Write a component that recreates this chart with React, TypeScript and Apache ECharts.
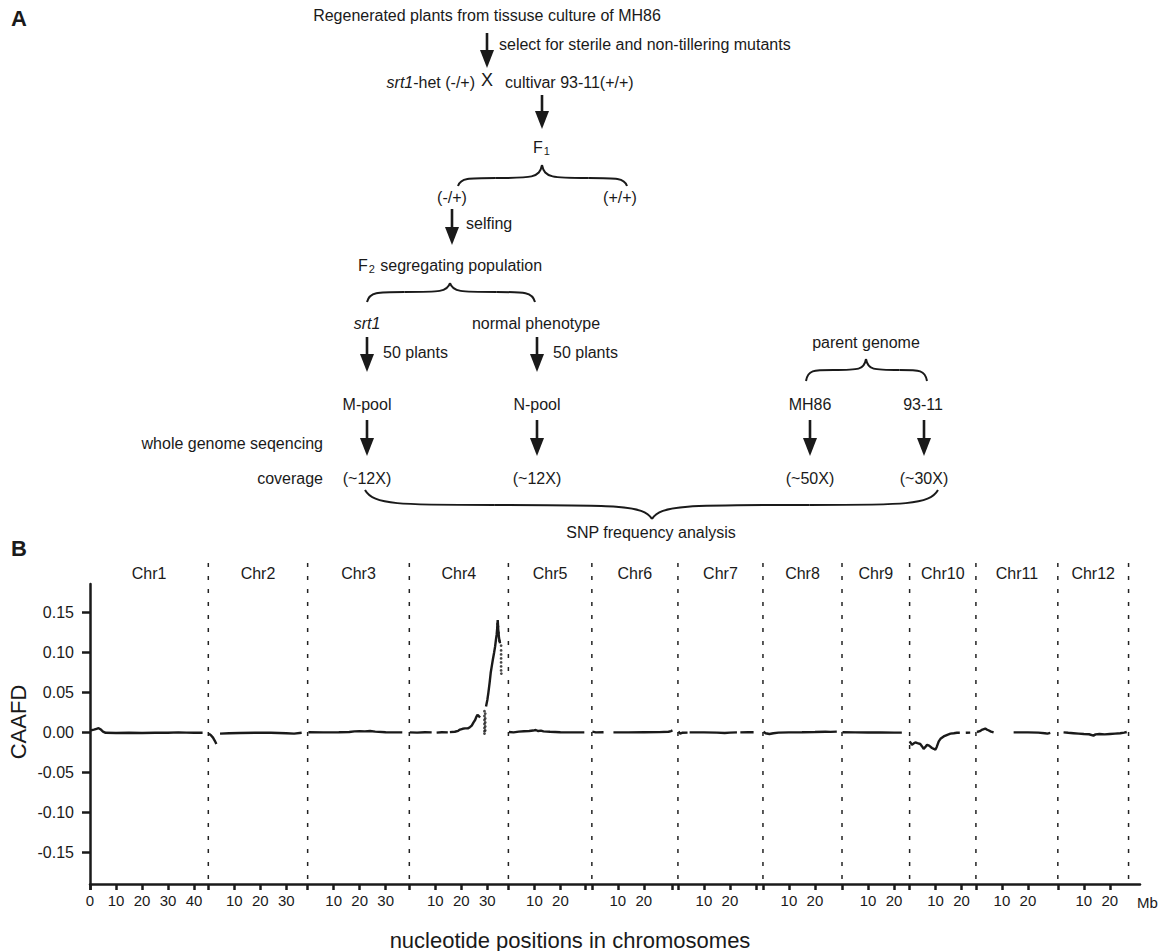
import React, { useEffect, useRef } from "react";
import * as echarts from "echarts";

// ---------------- data ----------------
const chrNames = ["Chr1", "Chr2", "Chr3", "Chr4", "Chr5", "Chr6", "Chr7", "Chr8", "Chr9", "Chr10", "Chr11", "Chr12"];
// width (Mb) of each chromosome's slot along the axis
const chrSlot = [45.5, 38.2, 39.1, 38.1, 32.1, 33.1, 32.7, 30.4, 26.0, 25.5, 31.5, 27.2];
// length (Mb) of each chromosome's own axis segment
const chrAxisLen = [45.5, 38.2, 39.1, 38.1, 29.5, 31.0, 30.1, 30.4, 26.0, 25.5, 31.5, 27.2];
const axisTail = 4.4;
const chrTickLabels = [
  [0, 10, 20, 30, 40], [10, 20, 30], [10, 20, 30], [10, 20, 30], [10, 20], [10, 20],
  [10, 20], [10, 20], [10, 20], [10, 20], [10, 20], [10, 20],
];
const yTicks = [-0.15, -0.1, -0.05, 0, 0.05, 0.1, 0.15];
const yMin = -0.19;
const yMax = 0.185;

type Pt = [number, number] | null;
// CAAFD per chromosome: [position in Mb, value]; null = gap
const chr1Data: Pt[] = [[0.3, 0.002], [1.5, 0.003], [2.5, 0.004], [3.3, 0.0048], [4.2, 0.003], [5, 0.0005], [6, -0.001], [10, -0.0012], [15, -0.001], [20, -0.0012], [25, -0.001], [30, -0.001], [34, -0.0005], [37, -0.0008], [40, -0.001], [43.3, -0.001]];
const chr2Data: Pt[] = [[0.2, -0.002], [1, -0.004], [1.8, -0.007], [2.5, -0.011], [3.1, -0.015], null, [4.5, -0.002], [8, -0.0015], [12, -0.0012], [18, -0.001], [24, -0.001], [30, -0.0015], [33, -0.002], [35.9, -0.001]];
const chr3Data: Pt[] = [[0.3, -0.0003], [6, -0.0005], [12, -0.0003], [16, 0], [18, 0.0008], [20, 0.001], [22, 0.0008], [24, 0.0012], [26, 0.0005], [30, -0.0003], [36.4, -0.0005]];
const chr4Data: Pt[] = [[0.2, -0.0005], [3, -0.0008], [6, -0.0003], [8.6, -0.0005], null, [10.5, -0.0008], [12.5, -0.0003], [14.8, -0.0005], null,
  [15.6, -0.0002], [17.5, 0.0003], [18.8, 0.0015], [19.5, 0.003], [20.5, 0.004], [21.4, 0.0045], [22.5, 0.0045], [23.3, 0.006], [24.0, 0.008], [24.7, 0.012], [25.3, 0.015], [25.8, 0.019], [26.2, 0.0215], [26.7, 0.02], [27.2, 0.018], null,
  [29.5, 0.032], [30.0, 0.04], [30.4, 0.049], [30.9, 0.062], [31.3, 0.074], [31.7, 0.082], [32.1, 0.09], [32.6, 0.099], [33.0, 0.107], [33.3, 0.115], [33.6, 0.122], [33.8, 0.13], [34.0, 0.14], [34.2, 0.128], [34.5, 0.1175], [34.9, 0.111]];
const chr4Scatter: [number, number][] = [[28.9, 0.026], [28.9, 0.02], [28.9, 0.015], [28.9, 0.01], [28.9, 0.005], [28.9, 0.001], [28.9, -0.002], [29.2, 0.023], [29.2, 0.017], [29.2, 0.012], [29.2, 0.007], [29.2, 0.002],
  [33.9, 0.135], [34.1, 0.132], [34.3, 0.124], [34.6, 0.114],
  [35.3, 0.108], [35.3, 0.102], [35.3, 0.097], [35.3, 0.092], [35.3, 0.087], [35.3, 0.082], [35.3, 0.077], [35.4, 0.073]];
const chr5Data: Pt[] = [[0.2, 0], [2, -0.0005], [4, 0.0005], [6, 0.001], [8, 0.0012], [9.5, 0.0018], [10.5, 0.0025], [11.5, 0.0012], [12.5, 0.0018], [13.5, 0.0008], [16, 0.0003], [20, -0.0003], [24, -0.0005], [29.2, -0.0005]];
const chr6Data: Pt[] = [[0.2, 0.0005], [1.5, -0.0005], [4.5, -0.0003], null, [8.3, -0.0005], [14, -0.0005], [20, -0.0003], [26, -0.0002], [29.5, 0.0003], [30.5, 0.0012], [31.0, 0.002]];
const chr7Data: Pt[] = [[0.2, 0.0005], [0.8, -0.002], [1.6, -0.001], [3.7, -0.0008], null, [4.5, -0.0005], [10, -0.0005], [15, -0.0008], [18, -0.0012], [20, -0.0008], [22.7, -0.0005], null, [24, -0.0005], [27, -0.0003], [29.1, -0.0003]];
const chr8Data: Pt[] = [[0.2, 0.0002], [1, -0.0015], [2.5, -0.0025], [4, -0.0015], [6, -0.0008], [10, -0.0005], [15, -0.0003], [20, 0], [24, 0.0004], [26, 0.0002], [28.4, 0.0005]];
const chr9Data: Pt[] = [[0.2, -0.0003], [5, -0.0005], [10, -0.0006], [15, -0.0007], [20, -0.0008], [23.0, -0.0008]];
const chr10Data: Pt[] = [[0.0, -0.0117], [0.5, -0.014], [0.9, -0.016], [1.5, -0.0145], [2.2, -0.013], [3, -0.014], [4.1, -0.015], [4.8, -0.018], [5.4, -0.021], [6.0, -0.019], [6.7, -0.016], [7.5, -0.017], [8.6, -0.02], [9.3, -0.021], [9.9, -0.022], [10.4, -0.019], [11.2, -0.0117], [12, -0.008], [13.1, -0.0055], [14.5, -0.0035], [15.7, -0.002], [17, -0.0015], [18.2, -0.001], [19.3, -0.001], null, [21.6, -0.001], [23.3, -0.0008]];
const chr11Data: Pt[] = [[0.4, 0], [1.5, 0.001], [2.5, 0.003], [3.6, 0.0042], [4.2, 0.003], [4.8, 0.0022], [5.8, 0.0005], [6.8, -0.0005], null, [14.5, -0.0005], [20, -0.0005], [24, -0.0008], [26.5, -0.0015], [27.5, -0.002], [28.6, -0.001]];
const chr12Data: Pt[] = [[2.2, -0.0005], [4, -0.001], [6, -0.0015], [8, -0.002], [10, -0.0025], [12, -0.0028], [13.7, -0.0045], [14.5, -0.003], [16, -0.0025], [18, -0.003], [20, -0.0025], [22, -0.002], [24, -0.0015], [25.5, -0.0008], [26.5, 0]];
const chrData = [chr1Data, chr2Data, chr3Data, chr4Data, chr5Data, chr6Data, chr7Data, chr8Data, chr9Data, chr10Data, chr11Data, chr12Data];

// ---------------- styling helpers ----------------
const FONT = "'Liberation Sans', Arial, Helvetica, sans-serif";
const INK = "#1a1a1a";
const FS = 16;

function txt(x: number, y: number, text: string, align: string = "center", extra: any = {}) {
  return {
    type: "text",
    x,
    y,
    silent: true,
    style: {
      text,
      fill: INK,
      fontSize: FS,
      fontFamily: FONT,
      align,
      verticalAlign: "middle",
      rich: {
        i: { fontStyle: "italic", fontSize: FS, fontFamily: FONT, fill: INK },
        s: { fontSize: 11, fontFamily: FONT, fill: INK, padding: [7, 1, 0, 1] },
      },
      ...extra,
    },
  };
}

function arrow(x: number, y1: number, y2: number) {
  return [
    { type: "line", silent: true, shape: { x1: x, y1, x2: x, y2: y2 - 12 }, style: { stroke: INK, lineWidth: 2.6 } },
    { type: "polygon", silent: true, shape: { points: [[x - 7, y2 - 18], [x + 7, y2 - 18], [x, y2]] }, style: { fill: INK } },
  ];
}

function brace(x0: number, x1: number, c: number, yEnd: number, yBody: number, yApex: number) {
  const st = { stroke: INK, lineWidth: 2, fill: "none" };
  const dl = c - x0;
  const dr = x1 - c;
  return [
    { type: "bezierCurve", silent: true, shape: { x1: x0, y1: yEnd, cpx1: x0 + 0.03 * dl, cpy1: yBody, cpx2: x0 + 0.12 * dl, cpy2: yBody, x2: x0 + 0.45 * dl, y2: yBody }, style: st },
    { type: "bezierCurve", silent: true, shape: { x1: x0 + 0.45 * dl, y1: yBody, cpx1: c - 0.12 * dl, cpy1: yBody, cpx2: c - 0.03 * dl, cpy2: yBody, x2: c, y2: yApex }, style: st },
    { type: "bezierCurve", silent: true, shape: { x1: x1, y1: yEnd, cpx1: x1 - 0.03 * dr, cpy1: yBody, cpx2: x1 - 0.12 * dr, cpy2: yBody, x2: x1 - 0.45 * dr, y2: yBody }, style: st },
    { type: "bezierCurve", silent: true, shape: { x1: x1 - 0.45 * dr, y1: yBody, cpx1: c + 0.12 * dr, cpy1: yBody, cpx2: c + 0.03 * dr, cpy2: yBody, x2: c, y2: yApex }, style: st },
  ];
}

function buildOption() {
  const offsets: number[] = [];
  let acc = 0;
  for (const s of chrSlot) {
    offsets.push(acc);
    acc += s;
  }
  const genomeEnd = acc;
  const xMax = genomeEnd + axisTail;
  const chrIndexAt = (v: number) => {
    for (let i = chrSlot.length - 1; i >= 0; i--) if (v >= offsets[i] - 1e-6) return i;
    return 0;
  };

  const xLabelValues = chrTickLabels.flatMap((ls, i) => ls.map((l) => offsets[i] + l));
  const endTicks = chrAxisLen
    .map((l, i) => (l < chrSlot[i] - 1e-6 ? offsets[i] + l : null))
    .filter((v) => v !== null) as number[];
  const xTickValues = [...offsets, ...endTicks, ...xLabelValues];
  const centers = chrSlot.map((s, i) => offsets[i] + s / 2);
  const boundaries = [...offsets.slice(1), genomeEnd];

  const lineSeries = chrData.map((d, i) => ({
    type: "line",
    name: chrNames[i],
    xAxisIndex: 0,
    yAxisIndex: 0,
    silent: true,
    symbol: "none",
    connectNulls: false,
    lineStyle: { color: INK, width: 2.4 },
    data: d.map((p) => (p ? [offsets[i] + p[0], p[1]] : [null, null])),
  }));

  const graphic: any[] = [
    txt(11, 18, "A", "left", { fontSize: 22, fontWeight: "bold" }),
    txt(487, 15, "Regenerated plants from tissuse culture of MH86"),
    ...arrow(487, 33, 68),
    txt(499, 44, "select for sterile and non-tillering mutants", "left"),
    txt(475, 82, "{i|srt1}-het (-/+)", "right"),
    txt(487, 80, "X", "center", { fontSize: 18 }),
    txt(505, 82, "cultivar 93-11(+/+)", "left"),
    ...arrow(542, 95, 129),
    txt(542, 147, "F{s|1}"),
    ...brace(458, 627, 542, 186, 178, 165),
    txt(452, 197, "(-/+)"),
    txt(620, 197, "(+/+)"),
    ...arrow(452, 209, 245),
    txt(466, 223, "selfing", "left"),
    txt(450, 265, "F{s|2} segregating population"),
    ...brace(367, 535, 450, 302, 292, 283),
    txt(367, 323, "{i|srt1}"),
    txt(536, 323, "normal phenotype"),
    ...arrow(367, 337, 372),
    ...arrow(537, 337, 372),
    txt(383, 352, "50 plants", "left"),
    txt(553, 352, "50 plants", "left"),
    txt(367, 404, "M-pool"),
    txt(537, 404, "N-pool"),
    ...arrow(367, 420, 456),
    ...arrow(537, 420, 456),
    txt(323, 443, "whole genome seqencing", "right"),
    txt(323, 478, "coverage", "right"),
    txt(367, 478, "(~12X)"),
    txt(537, 478, "(~12X)"),
    txt(866, 342, "parent genome"),
    ...brace(806, 927, 866, 381, 370, 359),
    txt(810, 404, "MH86"),
    txt(923, 404, "93-11"),
    ...arrow(810, 420, 456),
    ...arrow(924, 420, 456),
    txt(810, 478, "(~50X)"),
    txt(924, 478, "(~30X)"),
    ...brace(365, 938, 652, 490, 505, 519),
    txt(651, 532, "SNP frequency analysis"),
    txt(11, 548, "B", "left", { fontSize: 22, fontWeight: "bold" }),
    { ...txt(18, 722, "CAAFD", "center", { fontSize: 22 }), rotation: Math.PI / 2 },
    txt(570, 940, "nucleotide positions in chromosomes", "center", { fontSize: 22 }),
  ];

  const axisLine = { show: true, onZero: false, lineStyle: { color: INK, width: 2.5 } };

  return {
    animation: false,
    backgroundColor: "#ffffff",
    textStyle: { fontFamily: FONT },
    grid: [
      { left: 90, right: 20, top: 584, bottom: 67, containLabel: false, outerBoundsMode: "none" },
      { left: 90, right: 20, top: 563, bottom: 64, containLabel: false, outerBoundsMode: "none" },
    ],
    xAxis: [
      {
        type: "value",
        gridIndex: 0,
        min: 0,
        max: xMax,
        position: "bottom",
        axisLine,
        axisTick: { show: true, length: 6, customValues: xTickValues, lineStyle: { color: INK, width: 2.5 } },
        axisLabel: {
          customValues: xLabelValues,
          formatter: (v: number) => String(Math.round(v - offsets[chrIndexAt(v)])),
          color: INK,
          fontSize: 15,
          fontFamily: FONT,
          margin: 9,
        },
        splitLine: { show: false },
        name: "Mb",
        nameLocation: "end",
        nameGap: -3,
        nameTextStyle: { color: INK, fontSize: 15, fontFamily: FONT, verticalAlign: "top", padding: [11, 0, 0, 0] },
      },
      {
        type: "value",
        gridIndex: 0,
        min: 0,
        max: xMax,
        position: "top",
        axisLine: { show: false },
        axisTick: { show: false },
        splitLine: { show: false },
        axisLabel: {
          customValues: centers,
          formatter: (v: number) => {
            let best = 0;
            centers.forEach((c, i) => {
              if (Math.abs(c - v) < Math.abs(centers[best] - v)) best = i;
            });
            return chrNames[best];
          },
          color: INK,
          fontSize: 16,
          fontFamily: FONT,
          margin: 3,
        },
      },
      { type: "value", gridIndex: 1, min: 0, max: xMax, show: false },
    ],
    yAxis: [
      {
        type: "value",
        gridIndex: 0,
        min: yMin,
        max: yMax,
        axisLine,
        axisTick: { show: true, length: 8, customValues: yTicks, lineStyle: { color: INK, width: 2.5 } },
        axisLabel: {
          customValues: yTicks,
          formatter: (v: number) => v.toFixed(2),
          color: INK,
          fontSize: 16,
          fontFamily: FONT,
          margin: 16,
        },
        splitLine: { show: false },
      },
      { type: "value", gridIndex: 1, min: 0, max: 1, show: false },
    ],
    series: [
      {
        type: "line",
        name: "boundaries",
        xAxisIndex: 2,
        yAxisIndex: 1,
        silent: true,
        symbol: "none",
        connectNulls: false,
        lineStyle: { color: "#222", width: 1.5, type: [4, 9] },
        data: boundaries.flatMap((b) => [[b, 1], [b, 0], [null, null]]),
      },
      ...lineSeries,
      {
        type: "scatter",
        name: "Chr4 points",
        xAxisIndex: 0,
        yAxisIndex: 0,
        silent: true,
        symbolSize: 2.8,
        itemStyle: { color: INK },
        data: chr4Scatter.map((p) => [offsets[3] + p[0], p[1]]),
      },
    ],
    graphic,
  };
}

export default function App() {
  const ref = useRef<HTMLDivElement>(null);
  useEffect(() => {
    if (!ref.current) return;
    const chart = echarts.init(ref.current, null, { renderer: "svg" });
    chart.setOption(buildOption() as any);
    return () => chart.dispose();
  }, []);
  return (
    <div
      ref={ref}
      style={{ position: "fixed", left: 0, top: 0, width: 1160, height: 951, background: "#ffffff" }}
    />
  );
}
